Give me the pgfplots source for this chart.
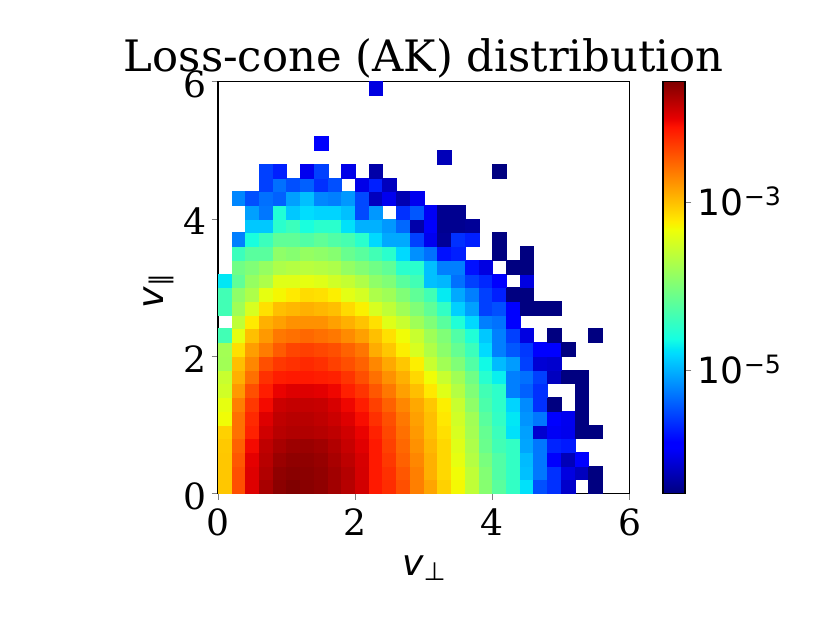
\documentclass[border=0pt]{standalone}
\usepackage{fontspec}
\setmainfont{DejaVu Serif}
\newfontfamily\dvsans{DejaVu Sans}
\usepackage{pgfplots}
\pgfplotsset{compat=1.18}
\begin{document}
\begin{tikzpicture}
\begin{axis}[
  name=ax,
  scale only axis, width=228pt, height=228pt,
  xmin=0, xmax=6, ymin=0, ymax=6,
  enlargelimits=false,
  axis on top,
  line width=0.8pt,
  tick align=outside,
  major tick length=3.5pt,
  tick pos=left,
  xtick={0,2,4,6}, xticklabels={0,2,4,6},
  ytick={0,2,4,6}, yticklabels={0,2,4,6},
  minor tick num=0,
  tick label style={font=\fontsize{20}{24}\selectfont, inner sep=0pt},
  xticklabel shift=4.8pt,
  yticklabel shift=2.7pt,
  yticklabel style={yshift=-1.5pt},
  colormap={mpljet}{rgb(0pt)=(0,0,0.5); rgb(110pt)=(0,0,1); rgb(125pt)=(0,0,1); rgb(340pt)=(0,0.86,1); rgb(350pt)=(0,0.9,0.968); rgb(375pt)=(0.081,1,0.887); rgb(640pt)=(0.935,1,0.032); rgb(650pt)=(0.968,0.963,0); rgb(660pt)=(1,0.926,0); rgb(890pt)=(1,0.074,0); rgb(910pt)=(0.909,0,0); rgb(1000pt)=(0.5,0,0)},
  point meta min=-6.46, point meta max=-1.57,
  colorbar,
  colorbar shift/.style={xshift=18.45pt},
  colorbar style={
    at={(parent axis.north east)}, anchor=north west,
    scale only axis, width=12.2pt, height=228pt,
    line width=0.8pt,
    ytick={-5,-3},
    yticklabels={{\dvsans 10\raisebox{5.5pt}{\fontsize{14}{16}\selectfont −5}},{\dvsans 10\raisebox{5.5pt}{\fontsize{14}{16}\selectfont −3}}},
    tick align=outside, major tick length=3.5pt,
    ytick pos=right, yticklabel pos=right,
    minor tick num=0,
    tick label style={font=\fontsize{20}{24}\selectfont, inner sep=0pt},
    yticklabel style={anchor=base west, yshift=-7.3pt},
    yticklabel shift=3.2pt,
  },
]
\addplot[scatter, only marks, mark=square*, mark size=3.8pt, point meta=explicit,
  scatter/use mapped color={draw=mapped color, fill=mapped color},
  mark options={line width=0.2pt}]
  table[row sep=\\, x=x, y=y, meta=c] {
x y c\\
0.1 0.1 -3.04\\ 0.3 0.1 -2.42\\ 0.5 0.1 -1.97\\ 0.7 0.1 -1.74\\ 0.9 0.1 -1.62\\ 1.1 0.1 -1.57\\ 1.3 0.1 -1.61\\ 1.5 0.1 -1.64\\ 1.7 0.1 -1.71\\ 1.9 0.1 -1.80\\ 2.1 0.1 -1.92\\ 2.3 0.1 -2.14\\ 2.5 0.1 -2.24\\ 2.7 0.1 -2.42\\ 2.9 0.1 -2.67\\ 3.1 0.1 -2.86\\ 3.3 0.1 -3.09\\ 3.5 0.1 -3.30\\ 3.7 0.1 -3.61\\ 3.9 0.1 -3.95\\ 4.1 0.1 -4.22\\ 4.3 0.1 -4.45\\ 4.5 0.1 -4.77\\ 4.7 0.1 -5.47\\ 4.9 0.1 -5.62\\ 5.1 0.1 -6.14\\ 5.5 0.1 -6.46\\
0.1 0.3 -3.04\\ 0.3 0.3 -2.42\\ 0.5 0.3 -1.97\\ 0.7 0.3 -1.78\\ 0.9 0.3 -1.64\\ 1.1 0.3 -1.61\\ 1.3 0.3 -1.62\\ 1.5 0.3 -1.65\\ 1.7 0.3 -1.71\\ 1.9 0.3 -1.79\\ 2.1 0.3 -1.93\\ 2.3 0.3 -2.14\\ 2.5 0.3 -2.26\\ 2.7 0.3 -2.46\\ 2.9 0.3 -2.67\\ 3.1 0.3 -2.92\\ 3.3 0.3 -3.13\\ 3.5 0.3 -3.32\\ 3.7 0.3 -3.61\\ 3.9 0.3 -3.97\\ 4.1 0.3 -4.27\\ 4.3 0.3 -4.45\\ 4.5 0.3 -4.93\\ 4.7 0.3 -5.28\\ 4.9 0.3 -5.62\\ 5.1 0.3 -6.05\\ 5.3 0.3 -6.19\\ 5.5 0.3 -6.46\\
0.1 0.5 -3.04\\ 0.3 0.5 -2.46\\ 0.5 0.5 -2.00\\ 0.7 0.5 -1.81\\ 0.9 0.5 -1.68\\ 1.1 0.5 -1.64\\ 1.3 0.5 -1.64\\ 1.5 0.5 -1.67\\ 1.7 0.5 -1.74\\ 1.9 0.5 -1.83\\ 2.1 0.5 -1.94\\ 2.3 0.5 -2.14\\ 2.5 0.5 -2.30\\ 2.7 0.5 -2.51\\ 2.9 0.5 -2.71\\ 3.1 0.5 -2.92\\ 3.3 0.5 -3.13\\ 3.5 0.5 -3.38\\ 3.7 0.5 -3.68\\ 3.9 0.5 -4.03\\ 4.1 0.5 -4.27\\ 4.3 0.5 -4.45\\ 4.5 0.5 -4.95\\ 4.7 0.5 -5.28\\ 4.9 0.5 -5.93\\ 5.1 0.5 -6.22\\ 5.3 0.5 -5.90\\
0.1 0.7 -3.05\\ 0.3 0.7 -2.51\\ 0.5 0.7 -2.06\\ 0.7 0.7 -1.84\\ 0.9 0.7 -1.74\\ 1.1 0.7 -1.69\\ 1.3 0.7 -1.68\\ 1.5 0.7 -1.71\\ 1.7 0.7 -1.78\\ 1.9 0.7 -1.87\\ 2.1 0.7 -1.98\\ 2.3 0.7 -2.14\\ 2.5 0.7 -2.34\\ 2.7 0.7 -2.55\\ 2.9 0.7 -2.76\\ 3.1 0.7 -2.96\\ 3.3 0.7 -3.13\\ 3.5 0.7 -3.42\\ 3.7 0.7 -3.72\\ 3.9 0.7 -4.12\\ 4.1 0.7 -4.36\\ 4.3 0.7 -4.45\\ 4.5 0.7 -5.06\\ 4.7 0.7 -5.28\\ 4.9 0.7 -5.68\\ 5.1 0.7 -5.73\\
0.1 0.9 -3.09\\ 0.3 0.9 -2.59\\ 0.5 0.9 -2.18\\ 0.7 0.9 -1.91\\ 0.9 0.9 -1.81\\ 1.1 0.9 -1.78\\ 1.3 0.9 -1.78\\ 1.5 0.9 -1.80\\ 1.7 0.9 -1.84\\ 1.9 0.9 -1.91\\ 2.1 0.9 -2.02\\ 2.3 0.9 -2.18\\ 2.5 0.9 -2.38\\ 2.7 0.9 -2.59\\ 2.9 0.9 -2.80\\ 3.1 0.9 -3.00\\ 3.3 0.9 -3.17\\ 3.5 0.9 -3.47\\ 3.7 0.9 -3.77\\ 3.9 0.9 -4.15\\ 4.1 0.9 -4.40\\ 4.3 0.9 -4.77\\ 4.5 0.9 -5.08\\ 4.7 0.9 -6.12\\ 4.9 0.9 -5.96\\ 5.1 0.9 -6.00\\ 5.3 0.9 -6.46\\ 5.5 0.9 -6.46\\
0.1 1.1 -3.32\\ 0.3 1.1 -2.59\\ 0.5 1.1 -2.22\\ 0.7 1.1 -1.97\\ 0.9 1.1 -1.84\\ 1.1 1.1 -1.81\\ 1.3 1.1 -1.81\\ 1.5 1.1 -1.84\\ 1.7 1.1 -1.89\\ 1.9 1.1 -1.97\\ 2.1 1.1 -2.08\\ 2.3 1.1 -2.26\\ 2.5 1.1 -2.42\\ 2.7 1.1 -2.63\\ 2.9 1.1 -2.84\\ 3.1 1.1 -3.00\\ 3.3 1.1 -3.21\\ 3.5 1.1 -3.51\\ 3.7 1.1 -3.79\\ 3.9 1.1 -4.22\\ 4.1 1.1 -4.45\\ 4.3 1.1 -4.74\\ 4.5 1.1 -5.14\\ 4.7 1.1 -5.28\\ 4.9 1.1 -5.87\\ 5.1 1.1 -5.99\\ 5.3 1.1 -6.46\\
0.1 1.3 -3.38\\ 0.3 1.3 -2.67\\ 0.5 1.3 -2.30\\ 0.7 1.3 -2.06\\ 0.9 1.3 -1.89\\ 1.1 1.3 -1.86\\ 1.3 1.3 -1.86\\ 1.5 1.3 -1.87\\ 1.7 1.3 -1.94\\ 1.9 1.3 -2.04\\ 2.1 1.3 -2.16\\ 2.3 1.3 -2.34\\ 2.5 1.3 -2.51\\ 2.7 1.3 -2.71\\ 2.9 1.3 -2.88\\ 3.1 1.3 -3.04\\ 3.3 1.3 -3.25\\ 3.5 1.3 -3.56\\ 3.7 1.3 -3.90\\ 3.9 1.3 -4.30\\ 4.1 1.3 -4.48\\ 4.3 1.3 -4.83\\ 4.5 1.3 -5.18\\ 4.7 1.3 -5.62\\ 4.9 1.3 -6.46\\ 5.3 1.3 -6.46\\
0.1 1.5 -3.51\\ 0.3 1.5 -2.80\\ 0.5 1.5 -2.42\\ 0.7 1.5 -2.16\\ 0.9 1.5 -2.02\\ 1.1 1.5 -1.97\\ 1.3 1.5 -1.97\\ 1.5 1.5 -1.99\\ 1.7 1.5 -2.04\\ 1.9 1.5 -2.17\\ 2.1 1.5 -2.28\\ 2.3 1.5 -2.46\\ 2.5 1.5 -2.63\\ 2.7 1.5 -2.84\\ 2.9 1.5 -3.00\\ 3.1 1.5 -3.21\\ 3.3 1.5 -3.42\\ 3.5 1.5 -3.68\\ 3.7 1.5 -3.99\\ 3.9 1.5 -4.36\\ 4.1 1.5 -4.48\\ 4.3 1.5 -5.24\\ 4.5 1.5 -5.39\\ 4.7 1.5 -5.62\\ 5.3 1.5 -6.46\\
0.1 1.7 -3.56\\ 0.3 1.7 -2.92\\ 0.5 1.7 -2.59\\ 0.7 1.7 -2.26\\ 0.9 1.7 -2.16\\ 1.1 1.7 -2.14\\ 1.3 1.7 -2.14\\ 1.5 1.7 -2.16\\ 1.7 1.7 -2.18\\ 1.9 1.7 -2.28\\ 2.1 1.7 -2.42\\ 2.3 1.7 -2.59\\ 2.5 1.7 -2.76\\ 2.7 1.7 -2.92\\ 2.9 1.7 -3.13\\ 3.1 1.7 -3.32\\ 3.3 1.7 -3.56\\ 3.5 1.7 -3.79\\ 3.7 1.7 -4.08\\ 3.9 1.7 -4.52\\ 4.1 1.7 -4.70\\ 4.3 1.7 -5.24\\ 4.5 1.7 -5.31\\ 4.7 1.7 -5.54\\ 4.9 1.7 -6.19\\ 5.1 1.7 -6.46\\ 5.3 1.7 -6.46\\
0.1 1.9 -3.79\\ 0.3 1.9 -3.00\\ 0.5 1.9 -2.71\\ 0.7 1.9 -2.42\\ 0.9 1.9 -2.30\\ 1.1 1.9 -2.26\\ 1.3 1.9 -2.22\\ 1.5 1.9 -2.26\\ 1.7 1.9 -2.34\\ 1.9 1.9 -2.42\\ 2.1 1.9 -2.52\\ 2.3 1.9 -2.71\\ 2.5 1.9 -2.88\\ 2.7 1.9 -3.04\\ 2.9 1.9 -3.25\\ 3.1 1.9 -3.56\\ 3.3 1.9 -3.79\\ 3.5 1.9 -3.99\\ 3.7 1.9 -4.27\\ 3.9 1.9 -4.65\\ 4.1 1.9 -4.95\\ 4.3 1.9 -5.10\\ 4.5 1.9 -5.54\\ 4.7 1.9 -6.10\\ 4.9 1.9 -6.13\\
0.1 2.1 -3.78\\ 0.3 2.1 -3.17\\ 0.5 2.1 -2.83\\ 0.7 2.1 -2.65\\ 0.9 2.1 -2.48\\ 1.1 2.1 -2.37\\ 1.3 2.1 -2.34\\ 1.5 2.1 -2.38\\ 1.7 2.1 -2.42\\ 1.9 2.1 -2.52\\ 2.1 2.1 -2.62\\ 2.3 2.1 -2.90\\ 2.5 2.1 -3.04\\ 2.7 2.1 -3.25\\ 2.9 2.1 -3.47\\ 3.1 2.1 -3.70\\ 3.3 2.1 -3.92\\ 3.5 2.1 -4.15\\ 3.7 2.1 -4.40\\ 3.9 2.1 -4.80\\ 4.1 2.1 -5.24\\ 4.3 2.1 -5.43\\ 4.5 2.1 -5.58\\ 4.7 2.1 -5.87\\ 4.9 2.1 -5.90\\ 5.1 2.1 -6.46\\
0.1 2.3 -4.36\\ 0.3 2.3 -3.38\\ 0.5 2.3 -3.00\\ 0.7 2.3 -2.80\\ 0.9 2.3 -2.63\\ 1.1 2.3 -2.59\\ 1.3 2.3 -2.55\\ 1.5 2.3 -2.59\\ 1.7 2.3 -2.63\\ 1.9 2.3 -2.73\\ 2.1 2.3 -2.84\\ 2.3 2.3 -3.00\\ 2.5 2.3 -3.17\\ 2.7 2.3 -3.32\\ 2.9 2.3 -3.56\\ 3.1 2.3 -3.80\\ 3.3 2.3 -3.99\\ 3.5 2.3 -4.27\\ 3.7 2.3 -4.56\\ 3.9 2.3 -4.89\\ 4.1 2.3 -5.24\\ 4.3 2.3 -5.54\\ 4.5 2.3 -6.05\\ 4.9 2.3 -6.46\\ 5.5 2.3 -6.46\\
0.3 2.5 -3.61\\ 0.5 2.5 -3.22\\ 0.7 2.5 -2.92\\ 0.9 2.5 -2.84\\ 1.1 2.5 -2.76\\ 1.3 2.5 -2.76\\ 1.5 2.5 -2.76\\ 1.7 2.5 -2.84\\ 1.9 2.5 -2.92\\ 2.1 2.5 -3.02\\ 2.3 2.5 -3.17\\ 2.5 2.5 -3.42\\ 2.7 2.5 -3.56\\ 2.9 2.5 -3.80\\ 3.1 2.5 -3.99\\ 3.3 2.5 -4.22\\ 3.5 2.5 -4.56\\ 3.7 2.5 -4.81\\ 3.9 2.5 -5.24\\ 4.1 2.5 -5.30\\ 4.3 2.5 -5.87\\
0.1 2.7 -4.36\\ 0.3 2.7 -3.80\\ 0.5 2.7 -3.47\\ 0.7 2.7 -3.17\\ 0.9 2.7 -3.00\\ 1.1 2.7 -2.96\\ 1.3 2.7 -2.92\\ 1.5 2.7 -2.96\\ 1.7 2.7 -3.00\\ 1.9 2.7 -3.14\\ 2.1 2.7 -3.26\\ 2.3 2.7 -3.47\\ 2.5 2.7 -3.61\\ 2.7 2.7 -3.80\\ 2.9 2.7 -3.99\\ 3.1 2.7 -4.18\\ 3.3 2.7 -4.45\\ 3.5 2.7 -4.85\\ 3.7 2.7 -5.08\\ 3.9 2.7 -5.54\\ 4.1 2.7 -5.47\\ 4.3 2.7 -5.87\\ 4.5 2.7 -6.46\\ 4.7 2.7 -6.46\\ 4.9 2.7 -6.46\\
0.1 2.9 -4.36\\ 0.3 2.9 -3.90\\ 0.5 2.9 -3.72\\ 0.7 2.9 -3.38\\ 0.9 2.9 -3.29\\ 1.1 2.9 -3.22\\ 1.3 2.9 -3.15\\ 1.5 2.9 -3.17\\ 1.7 2.9 -3.25\\ 1.9 2.9 -3.40\\ 2.1 2.9 -3.49\\ 2.3 2.9 -3.72\\ 2.5 2.9 -3.80\\ 2.7 2.9 -3.99\\ 2.9 2.9 -4.18\\ 3.1 2.9 -4.36\\ 3.3 2.9 -4.72\\ 3.5 2.9 -5.04\\ 3.7 2.9 -5.24\\ 3.9 2.9 -5.54\\ 4.1 2.9 -5.70\\ 4.3 2.9 -6.46\\ 4.5 2.9 -6.46\\
0.1 3.1 -4.74\\ 0.3 3.1 -4.18\\ 0.5 3.1 -3.86\\ 0.7 3.1 -3.72\\ 0.9 3.1 -3.42\\ 1.1 3.1 -3.42\\ 1.3 3.1 -3.38\\ 1.5 3.1 -3.42\\ 1.7 3.1 -3.51\\ 1.9 3.1 -3.58\\ 2.1 3.1 -3.71\\ 2.3 3.1 -3.90\\ 2.5 3.1 -3.99\\ 2.7 3.1 -4.22\\ 2.9 3.1 -4.36\\ 3.1 3.1 -4.93\\ 3.3 3.1 -4.97\\ 3.5 3.1 -5.31\\ 3.7 3.1 -5.54\\ 3.9 3.1 -5.66\\ 4.1 3.1 -5.90\\ 4.5 3.1 -6.05\\
0.3 3.3 -4.08\\ 0.5 3.3 -3.99\\ 0.7 3.3 -3.86\\ 0.9 3.3 -3.72\\ 1.1 3.3 -3.68\\ 1.3 3.3 -3.65\\ 1.5 3.3 -3.68\\ 1.7 3.3 -3.72\\ 1.9 3.3 -3.87\\ 2.1 3.3 -3.97\\ 2.3 3.3 -4.08\\ 2.5 3.3 -4.18\\ 2.7 3.3 -4.50\\ 2.9 3.3 -4.50\\ 3.1 3.3 -4.93\\ 3.3 3.3 -5.24\\ 3.5 3.3 -5.24\\ 3.7 3.3 -5.77\\ 3.9 3.3 -6.05\\ 4.3 3.3 -6.46\\ 4.5 3.3 -6.46\\
0.3 3.5 -4.40\\ 0.5 3.5 -4.22\\ 0.7 3.5 -4.22\\ 0.9 3.5 -3.90\\ 1.1 3.5 -3.95\\ 1.3 3.5 -3.86\\ 1.5 3.5 -3.90\\ 1.7 3.5 -3.95\\ 1.9 3.5 -4.13\\ 2.1 3.5 -4.22\\ 2.3 3.5 -4.36\\ 2.5 3.5 -4.50\\ 2.7 3.5 -4.81\\ 2.9 3.5 -5.16\\ 3.1 3.5 -5.31\\ 3.3 3.5 -5.77\\ 3.5 3.5 -5.70\\ 4.1 3.5 -6.46\\ 4.5 3.5 -6.46\\
0.3 3.7 -5.24\\ 0.5 3.7 -4.60\\ 0.7 3.7 -4.40\\ 0.9 3.7 -4.18\\ 1.1 3.7 -4.18\\ 1.3 3.7 -4.27\\ 1.5 3.7 -4.18\\ 1.7 3.7 -4.27\\ 1.9 3.7 -4.33\\ 2.1 3.7 -4.50\\ 2.3 3.7 -4.81\\ 2.5 3.7 -5.04\\ 2.7 3.7 -5.04\\ 2.9 3.7 -5.54\\ 3.1 3.7 -5.99\\ 3.3 3.7 -6.36\\ 3.5 3.7 -5.62\\ 3.7 3.7 -5.70\\ 4.1 3.7 -6.46\\
0.5 3.9 -4.89\\ 0.7 3.9 -4.89\\ 0.9 3.9 -4.50\\ 1.1 3.9 -4.40\\ 1.3 3.9 -4.60\\ 1.5 3.9 -4.50\\ 1.7 3.9 -4.50\\ 1.9 3.9 -4.77\\ 2.1 3.9 -5.00\\ 2.3 3.9 -5.00\\ 2.5 3.9 -5.12\\ 2.7 3.9 -5.35\\ 2.9 3.9 -6.28\\ 3.1 3.9 -5.93\\ 3.3 3.9 -6.39\\ 3.5 3.9 -6.39\\ 3.7 3.9 -6.36\\
0.5 4.1 -5.08\\ 0.7 4.1 -5.28\\ 0.9 4.1 -4.56\\ 1.1 4.1 -4.89\\ 1.3 4.1 -4.79\\ 1.5 4.1 -4.83\\ 1.7 4.1 -4.83\\ 1.9 4.1 -4.93\\ 2.1 4.1 -5.50\\ 2.3 4.1 -5.12\\ 2.7 4.1 -5.62\\ 2.9 4.1 -5.43\\ 3.1 4.1 -5.96\\ 3.3 4.1 -6.39\\ 3.5 4.1 -6.39\\
0.3 4.3 -5.20\\ 0.5 4.3 -5.47\\ 0.7 4.3 -5.31\\ 0.9 4.3 -5.39\\ 1.1 4.3 -5.08\\ 1.3 4.3 -4.93\\ 1.5 4.3 -5.20\\ 1.7 4.3 -5.24\\ 1.9 4.3 -5.12\\ 2.1 4.3 -5.50\\ 2.3 4.3 -6.19\\ 2.5 4.3 -5.99\\ 2.7 4.3 -6.25\\ 2.9 4.3 -5.99\\
0.7 4.5 -5.54\\ 0.9 4.5 -5.31\\ 1.1 4.5 -5.47\\ 1.3 4.5 -5.39\\ 1.5 4.5 -5.62\\ 1.7 4.5 -5.47\\ 2.1 4.5 -6.02\\ 2.3 4.5 -5.70\\ 2.5 4.5 -6.19\\
0.7 4.7 -5.54\\ 0.9 4.7 -5.70\\ 1.3 4.7 -5.99\\ 1.5 4.7 -5.54\\ 1.9 4.7 -6.02\\ 2.3 4.7 -6.29\\ 4.1 4.7 -6.46\\
3.3 4.9 -6.22\\
1.5 5.1 -5.93\\
2.3 5.9 -6.05\\
};
\end{axis}
\node[anchor=base, inner sep=0pt, font=\fontsize{24}{28.8}\selectfont] at ([yshift=5.5pt]ax.north) {Loss-cone (AK) distribution};
\node[anchor=base, inner sep=0pt, font=\fontsize{20}{24}\selectfont] at ([yshift=-45.25pt]ax.south) {{\dvsans\itshape v}\raisebox{-3pt}{\dvsans\fontsize{14}{16}\selectfont ⊥}};
\node[anchor=base, rotate=90, inner sep=0pt, font=\fontsize{20}{24}\selectfont] at ([xshift=-30.3pt,yshift=-2pt]ax.west) {{\dvsans\itshape v}\raisebox{-3pt}{\dvsans\fontsize{14}{16}\selectfont ∥}};
\pgfresetboundingbox
\path ([shift={(-120.74pt,-71.84pt)}]ax.south west) rectangle ([shift={(338.96pt,273.22pt)}]ax.south west);
\end{tikzpicture}
\end{document}
